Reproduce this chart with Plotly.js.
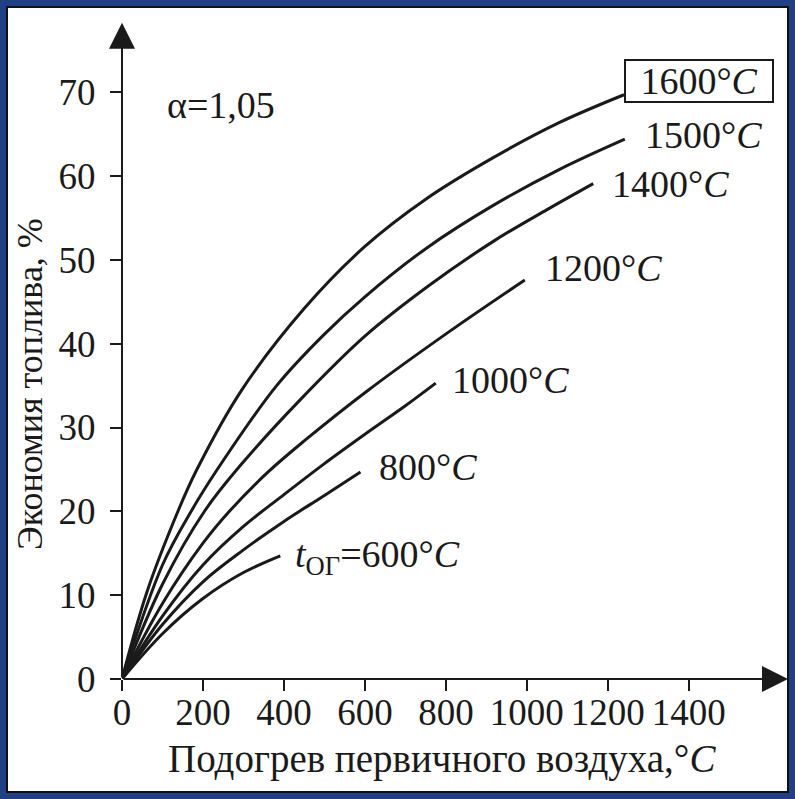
<!DOCTYPE html>
<html>
<head>
<meta charset="utf-8">
<script src="https://cdn.plot.ly/plotly-3.0.1.min.js"></script>
<style>
  html, body { margin: 0; padding: 0; background: #213f85; }
  #frame { position: absolute; left: 6px; top: 6px; width: 783px; height: 787px; box-sizing: border-box; border: 2px solid #111; background: #fff; }
  #chart { position: absolute; left: 0; top: 0; width: 795px; height: 799px; }
</style>
</head>
<body>
<div id="frame"></div>
<div id="chart"></div>
<script>
// ---- data ----
const xTicks = [0, 200, 400, 600, 800, 1000, 1200, 1400];
const yTicks = [0, 10, 20, 30, 40, 50, 60, 70];

const t1600_x = [0, 61, 139, 184, 296, 450, 600, 752, 917, 1081, 1240];
const t1600_y = [0, 10.3, 20.1, 24.9, 34.5, 44.2, 51.6, 57.3, 62.2, 66.4, 69.7];

const t1500_x = [0, 100, 172, 234, 382, 497, 600, 752, 917, 1081, 1242];
const t1500_y = [0, 13.6, 20.1, 24.9, 35.0, 41.0, 45.6, 51.4, 56.5, 60.8, 64.4];

const t1400_x = [0, 100, 205, 291, 440, 600, 760, 920, 1050, 1164];
const t1400_y = [0, 11.3, 20.1, 25.4, 33.3, 40.9, 47.0, 52.3, 56.0, 59.1];

const t1200_x = [0, 100, 200, 267, 361, 450, 604, 810, 995];
const t1200_y = [0, 9.0, 16.2, 20.1, 24.7, 28.4, 34.3, 41.5, 47.6];

const t1000_x = [0, 100, 200, 300, 400, 500, 600, 700, 775];
const t1000_y = [0, 7.5, 13.6, 18.2, 22.0, 25.7, 29.2, 32.6, 35.3];

const t800_x = [0, 100, 200, 300, 400, 500, 589];
const t800_y = [0, 6.5, 11.6, 15.4, 18.8, 21.9, 24.7];

const t600_x = [0, 100, 200, 300, 391];
const t600_y = [0, 5.4, 9.6, 12.7, 14.7];

const curveLabels = ["1600°<i>C</i>", "1500°<i>C</i>", "1400°<i>C</i>", "1200°<i>C</i>", "1000°<i>C</i>", "800°<i>C</i>", "<i>t</i><sub>ОГ</sub>=600°<i>C</i>"];

// ---- drawing ----
const INK = '#1a1a1a';
const FONT = 'Liberation Serif, Times New Roman, serif';
const FS = 38;
const series = [
  [t1600_x, t1600_y], [t1500_x, t1500_y], [t1400_x, t1400_y],
  [t1200_x, t1200_y], [t1000_x, t1000_y], [t800_x, t800_y], [t600_x, t600_y]
];
const traces = series.map((s, i) => ({
  x: s[0], y: s[1], type: 'scatter', mode: 'lines',
  line: { color: INK, width: 3, shape: 'spline', smoothing: 1 },
  hoverinfo: 'skip', showlegend: false, cliponaxis: false
}));

const labelPos = [
  { x: 1425, y: 71.3, xanchor: 'center', box: true },
  { x: 1286, y: 64.9 },
  { x: 1205, y: 59.0 },
  { x: 1039, y: 49.0 },
  { x: 810, y: 35.7 },
  { x: 630, y: 25.3 },
  { x: 422, y: 14.6 }
];

const annotations = labelPos.map((p, i) => {
  const a = {
    x: p.x, y: p.y, xref: 'x', yref: 'y', text: curveLabels[i], showarrow: false,
    xanchor: p.xanchor || 'left', yanchor: 'middle',
    font: { family: FONT, size: FS, color: INK }
  };
  if (p.box) {
    a.bordercolor = INK; a.borderwidth = 2; a.borderpad = 1;
    a.width = 144; a.height = 38; a.bgcolor = '#fff';
  }
  return a;
});

annotations.push({
  x: 106, y: 68.5, xref: 'x', yref: 'y', xanchor: 'left', yanchor: 'middle',
  text: 'α=1,05', showarrow: false, font: { family: FONT, size: FS, color: INK }
});
// axis arrows
annotations.push({
  x: 0, y: 78.3, ax: 0, ay: 0, xref: 'x', yref: 'y', axref: 'x', ayref: 'y',
  text: '', showarrow: true, arrowhead: 2, arrowsize: 2.6, arrowwidth: 2, arrowcolor: INK, standoff: 0, startstandoff: 0
});
annotations.push({
  x: 1645, y: 0, ax: 0, ay: 0, xref: 'x', yref: 'y', axref: 'x', ayref: 'y',
  text: '', showarrow: true, arrowhead: 2, arrowsize: 2.6, arrowwidth: 2, arrowcolor: INK, standoff: 0, startstandoff: 0
});
// axis titles (pixel centres, converted to paper coords below)
annotations.push({
  x: 442, y: 759, xref: 'paper', yref: 'paper', text: 'Подогрев первичного воздуха,°<i>C</i>',
  showarrow: false, xanchor: 'center', yanchor: 'middle', font: { family: FONT, size: 39, color: INK }
});
annotations.push({
  x: 30, y: 384, xref: 'paper', yref: 'paper', text: 'Экономия топлива, %', textangle: -90,
  showarrow: false, xanchor: 'center', yanchor: 'middle', font: { family: FONT, size: 36, color: INK }
});

const L = 122, R = 5, T = 21, B = 120, W = 795, H = 799;
const pw = W - L - R, ph = H - T - B;
annotations.forEach(a => {
  if (a.xref === 'paper') {
    a.x = (a.x - L) / pw;
    a.y = (H - B - a.y) / ph;
  }
});

const layout = {
  width: W, height: H,
  margin: { l: L, r: R, t: T, b: B, autoexpand: false },
  paper_bgcolor: 'rgba(0,0,0,0)', plot_bgcolor: 'rgba(0,0,0,0)',
  font: { family: FONT, size: FS, color: INK },
  xaxis: {
    range: [0, 1650], tickvals: xTicks, ticktext: xTicks.map(String),
    ticks: 'outside', ticklen: 11, tickwidth: 2, tickcolor: INK,
    showgrid: false, zeroline: false, showline: false,
    tickfont: { family: FONT, size: 37, color: INK }, ticklabelstandoff: -10
  },
  yaxis: {
    range: [0, 78.5], tickvals: yTicks, ticktext: yTicks.map(String),
    ticks: 'outside', ticklen: 11, tickwidth: 2, tickcolor: INK,
    showgrid: false, zeroline: false, showline: false,
    tickfont: { family: FONT, size: 37, color: INK }, ticklabelstandoff: 7
  },
  annotations: annotations,
  showlegend: false
};

Plotly.newPlot('chart', traces, layout, { displayModeBar: false, staticPlot: true });
</script>
</body>
</html>
